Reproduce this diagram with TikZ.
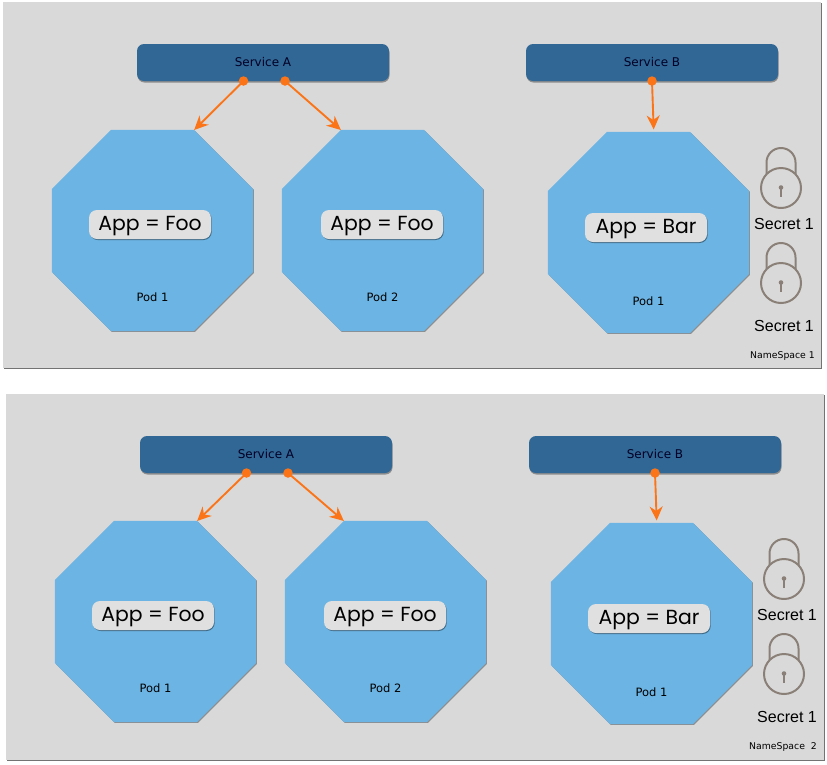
\documentclass[tikz,border=0pt]{standalone}
\usepackage{fontspec}
\setmainfont{Liberation Sans}
\newfontfamily\appfont{Poppins}
\newfontfamily\smallfont{DejaVu Sans}
\definecolor{ns-gray}{HTML}{D9D9D9}
\definecolor{svc-blue}{HTML}{306794}
\definecolor{pod-blue}{HTML}{6CB4E3}
\definecolor{app-gray}{HTML}{E0E0E0}
\definecolor{conn-orange}{HTML}{FB7518}
\definecolor{lock-gray}{HTML}{8A8078}
\usetikzlibrary{shapes.geometric,arrows.meta,positioning,shadows}

\begin{document}
\begin{tikzpicture}[x=1pt, y=-1pt,
  ns/.style={rectangle, fill=ns-gray, minimum width=818pt, minimum height=366pt, outer sep=0pt,
             drop shadow={shadow xshift=0.8pt, shadow yshift=-1pt, opacity=0.55, fill=black}},
  svc/.style={rectangle, rounded corners=7pt, fill=svc-blue, minimum width=252pt, minimum height=37pt,
              outer sep=0pt, text=black!85!blue, font=\smallfont\fontsize{12}{13}\selectfont,
              drop shadow={shadow xshift=0.5pt, shadow yshift=-1.5pt, opacity=0.35, fill=black}},
  pod/.style={regular polygon, regular polygon sides=8, fill=pod-blue,
              minimum size=217.6pt, inner sep=0pt, outer sep=0pt,
              drop shadow={shadow xshift=0.8pt, shadow yshift=-0.8pt, opacity=0.35, fill=black}},
  app/.style={rectangle, rounded corners=8pt, fill=app-gray, minimum width=122pt, minimum height=29pt,
              inner sep=0pt, text height=15pt, text depth=3pt, font=\appfont\fontsize{20.4}{23}\selectfont,
              drop shadow={shadow xshift=0.7pt, shadow yshift=-1pt, opacity=0.4, fill=black}},
  podname/.style={inner sep=0pt, font=\smallfont\fontsize{11.5}{13}\selectfont},
  secret/.style={inner sep=0pt, font=\fontsize{16}{18}\selectfont},
  nsname/.style={inner sep=0pt, font=\smallfont\fontsize{9.3}{11}\selectfont},
  dot/.style={circle, fill=conn-orange, minimum size=9.5pt, inner sep=0pt},
  arr/.style={-{Stealth[length=14pt,width=13pt]}, line width=1.9pt, conn-orange},
  pics/lock/.style={code={
    \draw[lock-gray, line width=2pt] (-14.5,-12) -- (-14.5,-25.5) arc[start angle=180, end angle=360, radius=14.5] -- (14.5,-12);
    \node[circle, draw=lock-gray, fill=ns-gray, line width=2pt, minimum size=40pt, inner sep=0pt] (-body) at (0,0) {};
    \fill[lock-gray] (0,-0.5) circle[radius=2.3];
    \draw[lock-gray, line width=2pt] (0,-0.5) -- (0,9);
  }}]

  \useasboundingbox (0,0) rectangle (827,764);
  \fill[white] (0,0) rectangle (827,764);

  % first namespace
  \node[ns] (nsOne) at (412,185) {};
  \node[svc] (svcA1) at (263,62.5) {Service A};
  \node[svc] (svcB1) at (652,62.5) {Service B};
  \node[pod] (podA1) at (152.5,230.5) {};
  \node[pod] (podA2) at (382.5,230.5) {};
  \node[pod] (podB1) at (648.5,232.5) {};
  \node[app, xshift=-2.5pt, yshift=6pt] (appA1) at (podA1) {App = Foo};
  \node[app, xshift=-0.5pt, yshift=6pt] (appA2) at (podA2) {App = Foo};
  \node[app, xshift=-2.5pt, yshift=5pt] (appB1) at (podB1) {App = Bar};
  \node[podname, above=29pt of podA1.south] (nameA1) {Pod 1};
  \node[podname, above=29pt of podA2.south] (nameA2) {Pod 2};
  \node[podname, above=27pt of podB1.south] (nameB1) {Pod 1};
  \pic (lockA) at (781,188) {lock};
  \pic (lockB) at (781,283) {lock};
  \node[secret, below=9pt of lockA-body, xshift=3pt] (secretA) {Secret 1};
  \node[secret, below=16pt of lockB-body, xshift=3pt] (secretB) {Secret 1};
  \node[nsname, anchor=east] (nameOne) at (815,356.5) {NameSpace 1};
  \node[dot, xshift=-19.5pt] (dotA1) at (svcA1.south) {};
  \node[dot, xshift=22pt] (dotA2) at (svcA1.south) {};
  \node[dot] (dotB1) at (svcB1.south) {};

  \draw[arr] (dotA1.center) -- (podA1.corner 1);
  \draw[arr] (dotA2.center) -- (podA2.corner 2);
  \draw[arr, shorten >=2.5pt] (dotB1.center) -- (podB1.87.5);

  % second namespace
  \node[ns] (nsTwo) at (415,576.5) {};
  \node[svc] (svcA3) at (266,454.5) {Service A};
  \node[svc] (svcB3) at (655,454.5) {Service B};
  \node[pod] (podA3) at (155.5,621.5) {};
  \node[pod] (podA4) at (385.5,621.5) {};
  \node[pod] (podB3) at (651.5,623.5) {};
  \node[app, xshift=-2.5pt, yshift=6pt] (appA3) at (podA3) {App = Foo};
  \node[app, xshift=-0.5pt, yshift=6pt] (appA4) at (podA4) {App = Foo};
  \node[app, xshift=-2.5pt, yshift=5pt] (appB3) at (podB3) {App = Bar};
  \node[podname, above=29pt of podA3.south] (nameA3) {Pod 1};
  \node[podname, above=29pt of podA4.south] (nameA4) {Pod 2};
  \node[podname, above=27pt of podB3.south] (nameB3) {Pod 1};
  \pic (lockC) at (784,579) {lock};
  \pic (lockD) at (784,674) {lock};
  \node[secret, below=9pt of lockC-body, xshift=3pt] (secretC) {Secret 1};
  \node[secret, below=16pt of lockD-body, xshift=3pt] (secretD) {Secret 1};
  \node[nsname, anchor=east] (nameTwo) at (817,747.5) {NameSpace\ \ 2};
  \node[dot, xshift=-19.5pt] (dotA3) at (svcA3.south) {};
  \node[dot, xshift=22pt] (dotA4) at (svcA3.south) {};
  \node[dot] (dotB3) at (svcB3.south) {};

  \draw[arr] (dotA3.center) -- (podA3.corner 1);
  \draw[arr] (dotA4.center) -- (podA4.corner 2);
  \draw[arr, shorten >=2.5pt] (dotB3.center) -- (podB3.87.5);

\end{tikzpicture}
\end{document}
